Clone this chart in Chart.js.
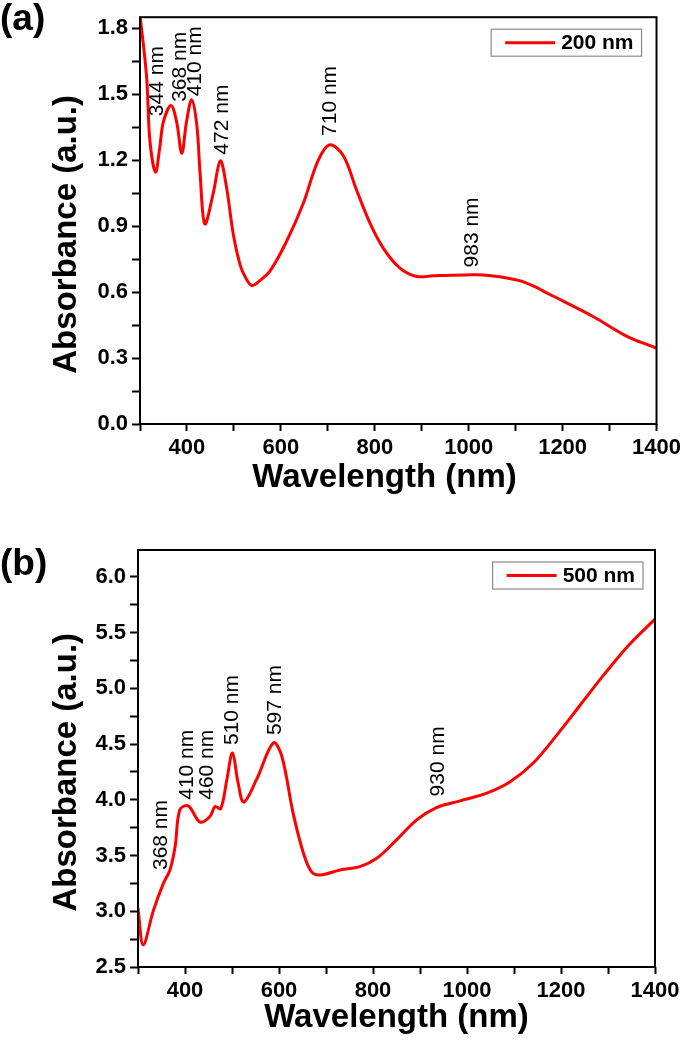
<!DOCTYPE html>
<html>
<head>
<meta charset="utf-8">
<script src="https://cdn.jsdelivr.net/npm/chart.js@4.4.0/dist/chart.umd.min.js"></script>
<style>
  body { margin: 0; background: #fff; width: 685px; height: 1042px; position: relative; overflow: hidden;
         font-family: "Liberation Sans", Arial, sans-serif; }
  .panel { position: absolute; left: 0; width: 685px; }
  .panel canvas { display: block; }
  .tag { position: absolute; left: 0; font-weight: bold; font-size: 37px; line-height: 1; color: #000; }
</style>
</head>
<body>
<div class="panel" style="top:0;height:510px"><canvas id="chartA" width="685" height="510"></canvas></div>
<div class="panel" style="top:510px;height:532px"><canvas id="chartB" width="685" height="532"></canvas></div>
<div class="tag" style="top:-1px">(a)</div>
<div class="tag" style="top:544px">(b)</div>
<script>
// panel (a): 200 nm sample
const wavelengthA = [300, 314, 321, 333, 342, 350, 366, 378, 389, 399, 410, 421, 428, 438, 456, 471, 484, 499,
                     513, 525, 538, 555, 577, 612, 648, 679, 704, 733, 761, 789, 818, 853, 889, 924, 960, 995,
                     1030, 1066, 1108, 1136, 1172, 1264, 1336, 1400];
const absorbanceA = [1.86, 1.58, 1.29, 1.146, 1.256, 1.376, 1.448, 1.374, 1.231, 1.374, 1.474, 1.359, 1.138, 0.91,
                     1.05, 1.197, 1.08, 0.858, 0.725, 0.665, 0.63, 0.652, 0.696, 0.83, 1.005, 1.197, 1.27, 1.22,
                     1.065, 0.917, 0.80, 0.71, 0.671, 0.674, 0.677, 0.678, 0.678, 0.67, 0.652, 0.629, 0.59, 0.49,
                     0.40, 0.345];
const peakTextA = ['344 nm', '368 nm', '410 nm', '472 nm', '710 nm', '983 nm'];
const yLabelsA = [0.0, 0.3, 0.6, 0.9, 1.2, 1.5, 1.8];

// panel (b): 500 nm sample
const wavelengthB = [300, 311, 333, 354, 368, 379, 389, 407, 432, 453, 464, 476, 489, 501, 513, 525, 552, 588,
                     606, 630, 652, 669, 687, 730, 772, 808, 850, 893, 935, 985, 1042, 1091, 1141, 1191, 1241,
                     1291, 1345, 1400];
const absorbanceB = [3.03, 2.70, 3.01, 3.25, 3.37, 3.58, 3.91, 3.945, 3.80, 3.85, 3.94, 3.92, 4.18, 4.42, 4.15,
                     3.98, 4.18, 4.51, 4.39, 3.88, 3.52, 3.355, 3.325, 3.37, 3.40, 3.475, 3.64, 3.82, 3.93, 3.99,
                     4.06, 4.16, 4.33, 4.58, 4.85, 5.12, 5.39, 5.62];
const peakTextB = ['368 nm', '410 nm', '460 nm', '510 nm', '597 nm', '930 nm'];
const yLabelsB = [2.5, 3.0, 3.5, 4.0, 4.5, 5.0, 5.5, 6.0];

const xLabels = [400, 600, 800, 1000, 1200, 1400];

// where the rotated peak labels sit (bottom-centre of text, in data units)
const peakPosA = [[336, 1.40], [385, 1.465], [417, 1.49], [474, 1.225], [704, 1.31], [1008, 0.712]];
const peakPosB = [[349, 3.37], [405, 4.0], [448, 4.0], [501, 4.49], [591, 4.58], [938, 4.03]];

Chart.defaults.font.family = '"Liberation Sans", Arial, sans-serif';
Chart.defaults.color = '#000';

const frame = {
  id: 'frame',
  afterDatasetsDraw(chart) {
    const {ctx, chartArea: a} = chart;
    ctx.save();
    ctx.strokeStyle = '#000';
    ctx.lineWidth = 2;
    ctx.strokeRect(a.left, a.top, a.right - a.left, a.bottom - a.top);
    ctx.restore();
  }
};

const peakLabels = {
  id: 'peakLabels',
  afterDatasetsDraw(chart, args, opts) {
    const {ctx, scales: {x, y}} = chart;
    ctx.save();
    ctx.font = '21px "Liberation Sans", Arial, sans-serif';
    ctx.fillStyle = '#000';
    ctx.textAlign = 'left';
    ctx.textBaseline = 'middle';
    opts.text.forEach((t, i) => {
      const p = opts.at[i];
      ctx.save();
      ctx.translate(x.getPixelForValue(p[0]), y.getPixelForValue(p[1]));
      ctx.rotate(-Math.PI / 2);
      ctx.fillText(t, 0, 0);
      ctx.restore();
    });
    ctx.restore();
  }
};

const boxLegend = {
  id: 'boxLegend',
  afterDraw(chart, args, opts) {
    const {ctx, chartArea} = chart;
    const ds = chart.data.datasets[0];
    ctx.save();
    ctx.font = 'bold 21px "Liberation Sans", Arial, sans-serif';
    const tw = ctx.measureText(ds.label).width;
    const w = 14 + 50 + 6 + tw + 8, h = 27;
    const x0 = chartArea.right - opts.right - w, y0 = chartArea.top + 12;
    ctx.fillStyle = '#fff';
    ctx.fillRect(x0, y0, w, h);
    ctx.strokeStyle = '#8a8a8a';
    ctx.lineWidth = 1.2;
    ctx.strokeRect(x0, y0, w, h);
    ctx.strokeStyle = ds.borderColor;
    ctx.lineWidth = 3;
    ctx.beginPath();
    ctx.moveTo(x0 + 14, y0 + h / 2);
    ctx.lineTo(x0 + 64, y0 + h / 2);
    ctx.stroke();
    ctx.fillStyle = '#000';
    ctx.textBaseline = 'middle';
    ctx.fillText(ds.label, x0 + 70, y0 + h / 2 + 1);
    ctx.restore();
  }
};

const near = (list, v) => list.some(t => Math.abs(t - v) < 1e-6);

function spectrum(id, xs, ys, name, yMin, yMax, yStep, yLabels, text, at, g) {
  return new Chart(document.getElementById(id), {
    type: 'line',
    data: {
      datasets: [{
        label: name,
        data: xs.map((x, i) => ({x: x, y: ys[i]})),
        borderColor: '#ff0000',
        borderWidth: 3,
        pointRadius: 0,
        tension: 0.35,
        fill: false
      }]
    },
    options: {
      responsive: false,
      animation: false,
      devicePixelRatio: 1,
      layout: { padding: { top: g.top, right: g.right, left: 0, bottom: 0 } },
      plugins: {
        legend: { display: false },
        tooltip: { enabled: false },
        peakLabels: { text: text, at: at },
        boxLegend: { right: g.legendRight }
      },
      scales: {
        x: {
          type: 'linear', min: 300, max: 1400,
          afterFit: s => { s.height = g.xHeight; },
          border: { display: false },
          grid: { drawOnChartArea: false, drawTicks: true, tickLength: 7, tickWidth: 2, tickColor: '#000' },
          ticks: {
            stepSize: 100, autoSkip: false, maxRotation: 0, padding: 4, color: '#000',
            font: { size: 22, weight: 'bold' },
            callback: v => near(xLabels, v) ? String(v) : ''
          },
          title: {
            display: true, text: g.xTitle, color: '#000',
            font: { size: 33, weight: 'bold' },
            padding: { top: g.xTitlePad, bottom: g.xTitlePad }
          }
        },
        y: {
          min: yMin, max: yMax,
          afterFit: s => { s.width = g.yWidth; },
          border: { display: false },
          grid: { drawOnChartArea: false, drawTicks: true, tickLength: 8, tickWidth: 2, tickColor: '#000' },
          ticks: {
            stepSize: yStep, includeBounds: false, autoSkip: false, padding: 4, color: '#000',
            font: { size: 22, weight: 'bold' },
            callback: v => near(yLabels, v) ? v.toFixed(1) : ''
          },
          title: {
            display: true, text: 'Absorbance (a.u.)   ', color: '#000',
            font: { size: 33, weight: 'bold' },
            padding: { top: 47, bottom: 0 }
          }
        }
      }
    },
    plugins: [frame, peakLabels, boxLegend]
  });
}

spectrum('chartA', wavelengthA, absorbanceA, '200 nm', 0, 1.85, 0.15, yLabelsA, peakTextA, peakPosA,
  { top: 5, right: 27, xHeight: 86, yWidth: 140, xTitlePad: 12, xTitle: 'Wavelength (nm)   ', legendRight: 15 });
spectrum('chartB', wavelengthB, absorbanceB, '500 nm', 2.5, 6.24, 0.25, yLabelsB, peakTextB, peakPosB,
  { top: 40, right: 30, xHeight: 75, yWidth: 138, xTitlePad: 4, xTitle: 'Wavelength (nm)', legendRight: 12 });
</script>
</body>
</html>
